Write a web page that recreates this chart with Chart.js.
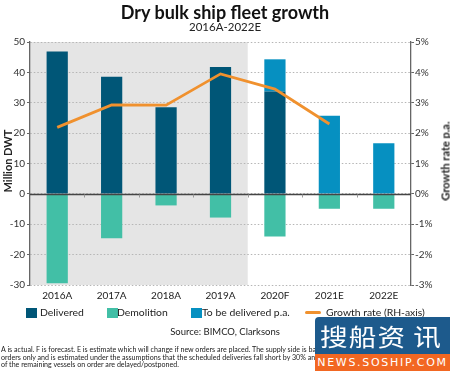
<!DOCTYPE html>
<html><head><meta charset="utf-8">
<script src="https://cdn.jsdelivr.net/npm/chart.js@4"></script>
<style>
html,body{margin:0;padding:0;background:#fff;}
body{width:450px;height:371px;position:relative;overflow:hidden;font-family:Lato,"Open Sans",sans-serif;color:#222;}
#c{position:absolute;left:0;top:0;}
.t{position:absolute;white-space:nowrap;}
#title{left:0;width:450px;text-align:center;top:1px;font-size:18px;font-weight:bold;color:#111;}
#sub{left:0;width:450px;text-align:center;top:20px;font-size:11.5px;color:#222;}
#ylt{left:7px;top:161px;transform:translate(-50%,-50%) rotate(-90deg);font-size:11px;font-weight:bold;}
#yrt{left:445px;top:161px;transform:translate(-50%,-50%) rotate(-90deg);font-size:11px;font-weight:bold;}
.lg{position:absolute;top:306px;font-size:10.4px;color:#222;white-space:nowrap;}
.sw{position:absolute;top:307.5px;width:10.5px;height:10.5px;}
#src{left:0;width:450px;text-align:center;top:326px;font-size:9.5px;}
.fn{left:1px;font-size:7.1px;color:#222;}
#wm{position:absolute;left:315px;top:317px;width:135px;height:54px;}
#wmb{position:absolute;left:0;top:0;width:135px;height:37px;background:#1d5a8c;border-top-left-radius:4px;overflow:hidden;}
#wmt{position:absolute;left:5px;top:0;height:37px;line-height:37px;color:#fff;font-size:24px;letter-spacing:1px;font-family:"Noto Sans CJK SC",sans-serif;transform:scaleX(1.15);transform-origin:0 50%;white-space:nowrap;}
#wmt span{margin-left:6px;}
#wmo{position:absolute;left:0;top:36.5px;width:135px;height:17.5px;background:#f26722;color:#fff;font-size:11px;line-height:18px;text-align:center;letter-spacing:1.7px;font-family:"DejaVu Sans",sans-serif;white-space:nowrap;}
</style></head>
<body>
<canvas id="c" width="450" height="371"></canvas>
<div class="t" id="title">Dry bulk ship fleet growth</div>
<div class="t" id="sub">2016A-2022E</div>
<div class="t" id="ylt">Million DWT</div>
<div class="t" id="yrt">Growth rate p.a.</div>
<div class="sw" style="left:26px;background:#005677"></div><div class="lg" style="left:40px">Delivered</div>
<div class="sw" style="left:107px;background:#42bfa6"></div><div class="lg" style="left:117px">Demolition</div>
<div class="sw" style="left:191px;background:#0690c1"></div><div class="lg" style="left:202px">To be delivered p.a.</div>
<div style="position:absolute;left:305px;top:310.5px;width:16px;height:3px;background:#f0912e;border-radius:1.5px"></div><div class="lg" style="left:326px">Growth rate (RH-axis)</div>
<div class="t" id="src">Source: BIMCO, Clarksons</div>
<div class="t fn" style="top:345px">A is actual. F is forecast. E is estimate which will change if new orders are placed. The supply side is based on current</div>
<div class="t fn" style="top:352.5px">orders only and is estimated under the assumptions that the scheduled deliveries fall short by 30% and that the rest</div>
<div class="t fn" style="top:359.5px">of the remaining vessels on order are delayed/postponed.</div>
<div id="wm"><div id="wmb"><div id="wmt">搜船资<span>讯</span></div></div><div id="wmo">NEWS.SOSHIP.COM</div></div>
<script>
const categories = ["2016A","2017A","2018A","2019A","2020F","2021E","2022E"];
const delivered = [46.9, 38.6, 28.5, 41.8, 33.7, null, null];
const toBeDelivered = [null, null, null, null, 10.6, 25.7, 16.7];
const demolition = [-29.4, -14.6, -3.8, -7.8, -14.0, -4.9, -4.9];
const growthRate = [2.19, 2.93, 2.92, 3.95, 3.45, 2.30, null];
const actualCount = 4; // categories with actual data (shaded)

const FONT = "Lato";
const shade = {
  id: "shade",
  beforeDraw(chart) {
    const {ctx, chartArea: a, scales: {x}} = chart;
    const edge = (x.getPixelForValue(actualCount - 1) + x.getPixelForValue(actualCount)) / 2;
    ctx.save();
    ctx.fillStyle = "#e5e5e5";
    ctx.fillRect(a.left, a.top, edge - a.left, a.bottom - a.top);
    ctx.restore();
  }
};
const zeroLine = {
  id: "zeroLine",
  afterDatasetsDraw(chart) {
    const {ctx, chartArea: a, scales: {x, y}} = chart;
    const y0 = Math.round(y.getPixelForValue(0)) + 0.5;
    ctx.save();
    ctx.strokeStyle = "#444";
    ctx.lineWidth = 1.3;
    ctx.beginPath();
    ctx.moveTo(a.left, y0); ctx.lineTo(a.right, y0);
    ctx.stroke();
    ctx.strokeStyle = "#999";
    ctx.lineWidth = 1;
    for (let i = 0; i < categories.length - 1; i++) {
      const bx = Math.round((x.getPixelForValue(i) + x.getPixelForValue(i + 1)) / 2) + 0.5;
      ctx.beginPath(); ctx.moveTo(bx, y0); ctx.lineTo(bx, y0 + 3); ctx.stroke();
    }
    ctx.restore();
  }
};

new Chart(document.getElementById("c"), {
  data: {
    labels: categories,
    datasets: [
      {type: "line", label: "Growth rate (RH-axis)", data: growthRate, yAxisID: "yR",
       borderColor: "#f0912e", borderWidth: 2.8, pointRadius: 0, tension: 0, order: 0},
      {type: "bar", label: "Delivered", data: delivered, backgroundColor: "#005677", yAxisID: "y", stack: "s", order: 1},
      {type: "bar", label: "To be delivered p.a.", data: toBeDelivered, backgroundColor: "#0690c1", yAxisID: "y", stack: "s", order: 1},
      {type: "bar", label: "Demolition", data: demolition, backgroundColor: "#42bfa6", yAxisID: "y", stack: "s", order: 1}
    ]
  },
  options: {
    responsive: false,
    animation: false,
    devicePixelRatio: 1,
    layout: {padding: {top: 42, left: 0, right: 0, bottom: 66}},
    datasets: {bar: {barPercentage: 0.39, categoryPercentage: 1}},
    plugins: {legend: {display: false}, tooltip: {enabled: false}, title: {display: false}},
    scales: {
      x: {
        stacked: true,
        grid: {display: false, drawTicks: false},
        border: {display: false},
        ticks: {color: "#222", font: {family: FONT, size: 10}, padding: 5, maxRotation: 0},
        afterFit(s) { s.height = 20; }
      },
      y: {
        position: "left", stacked: true, min: -30, max: 50,
        ticks: {stepSize: 10, color: "#333", font: {family: FONT, size: 10}, padding: 2},
        grid: {color: "#b5b5b5", lineWidth: 1, tickLength: 3, tickColor: "#666", tickBorderDash: []},
        border: {display: true, color: "#666", width: 1.3, dash: [1.5, 2]},
        afterFit(s) { s.width = 30; }
      },
      yR: {
        position: "right", min: -3, max: 5,
        ticks: {stepSize: 1, color: "#333", font: {family: FONT, size: 10}, padding: 1,
                callback: v => v + "%"},
        grid: {drawOnChartArea: false, tickLength: 3, tickColor: "#666"},
        border: {display: true, color: "#666", width: 1.3},
        afterFit(s) { s.width = 39; }
      }
    }
  },
  plugins: [shade, zeroLine]
});
</script>
</body></html>
